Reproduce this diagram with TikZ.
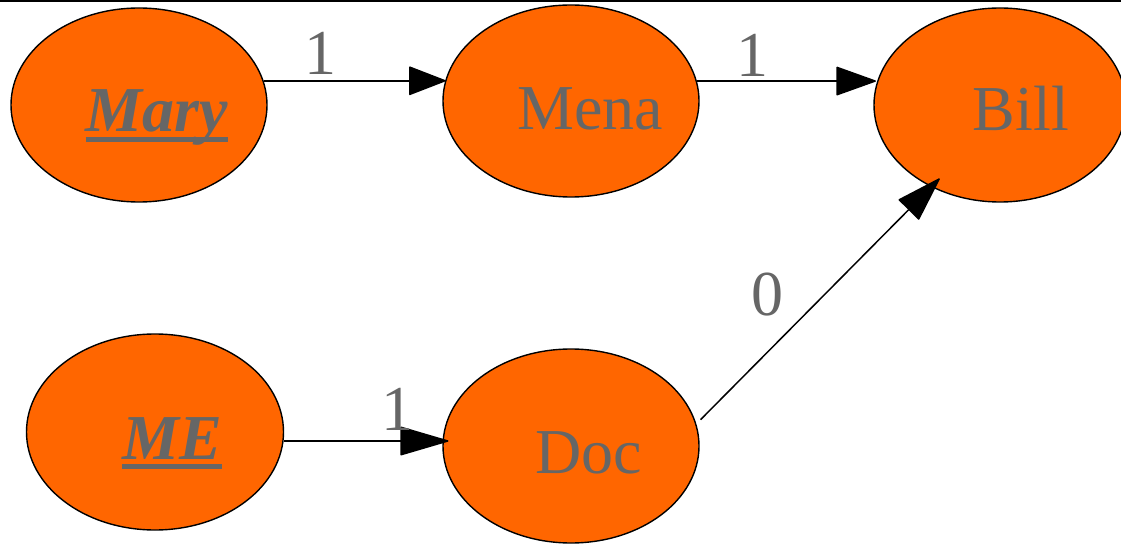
\documentclass[tikz,border=0pt]{standalone}
\usepackage{fontspec}
\setmainfont{Liberation Serif}
\usetikzlibrary{shapes.geometric,arrows.meta}
\definecolor{nodefill}{HTML}{FF6600}
\definecolor{inkgray}{HTML}{666666}
% bold italic name with a thick rule through the descenders
\newcommand\namerule[1]{\setbox0\hbox{#1}\rlap{\rule[-10pt]{\wd0}{4.6pt}}\box0}
\tikzset{
  person/.style={ellipse, draw=black, line width=1.4pt, fill=nodefill, inner sep=0pt},
  caption/.style={anchor=base, text=inkgray, inner sep=0pt, font=\fontsize{64}{70}\selectfont},
  weight/.style={text=inkgray, inner sep=0pt, font=\fontsize{64}{70}\selectfont},
  link/.style={line width=1.5pt, line join=round, -{Triangle[length=#1,width=29pt,round]}},
  link/.default=38pt,
}
\begin{document}
\begin{tikzpicture}[x=1pt, y=-1pt]
\useasboundingbox (0,0) rectangle (1121,545);
\clip (0,0) rectangle (1121,545);
\draw[line width=1.6pt] (0,0.8) -- (1121,0.8);

% people
\node[person, minimum width=256pt, minimum height=194pt] (mary) at (139,105) {};
\node[person, minimum width=256pt, minimum height=192pt] (mena) at (571,101) {};
\node[person, minimum width=252pt, minimum height=194pt] (bill) at (1000,105) {};
\node[person, minimum width=257pt, minimum height=196pt] (me)   at (155,432) {};
\node[person, minimum width=256pt, minimum height=194pt] (doc)  at (571,446) {};

% names
\node[caption] (marytext) at (157,132) {\bfseries\itshape\namerule{Mary}};
\node[caption] (menatext) at (590,130) {Mena};
\node[caption] (billtext) at (1021,131) {Bill};
\node[caption] (metext)   at (172,459) {\bfseries\itshape\namerule{ME}};
\node[caption] (doctext)  at (589,473) {Doc};

% links
\draw[link] (mary.11) -- (mary.11 -| mena.170);
\draw[link=41pt] (mena.9) -- (mena.9 -| bill.171);
\draw[link=50pt, shorten >=-6pt] (me.-4.5) -- (me.-4.5 -| doc.178);
\draw[link=46pt, shorten <=6pt, shorten >=-12pt] (doc.10.5) -- (bill.230);

% weights
\node[weight] (w1) at (320,53) {1};
\node[weight] (w2) at (752,55) {1};
\node[weight] (w3) at (397,409) {1};
\node[weight] (w4) at (767,295) {0};
\end{tikzpicture}
\end{document}
